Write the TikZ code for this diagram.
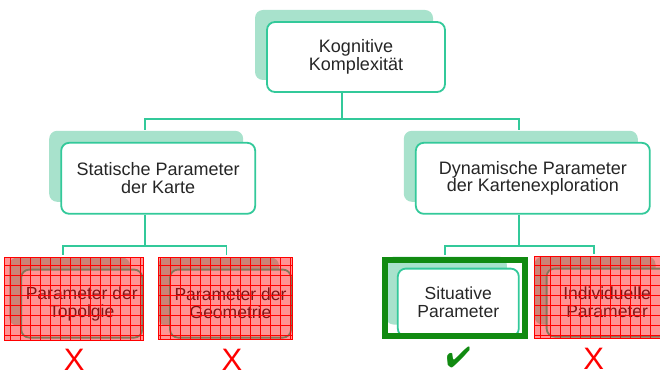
\documentclass[tikz,border=0pt]{standalone}
\usepackage{fontspec}
\setmainfont{Liberation Sans}
\usepackage{pifont}
\usetikzlibrary{positioning,shadows,patterns.meta}
\definecolor{mint}{HTML}{33C99A}
\definecolor{shade}{HTML}{A8E2CC}
\definecolor{ink}{HTML}{262626}
\definecolor{okgreen}{HTML}{118A11}
\definecolor{nored}{HTML}{FF0000}
\tikzset{
  every node/.style={font=\fontsize{18}{17.7}\selectfont,text=ink},
  box/.style={draw=mint,line width=1.8pt,rounded corners=8pt,fill=white,minimum height=71pt,align=center,inner sep=4pt,
    general shadow={fill=shade,draw=none,shadow xshift=-12pt,shadow yshift=12pt}},
  leafbox/.style={box,minimum width=121pt,minimum height=68pt,font=\fontsize{17.5}{18}\selectfont},
  link/.style={draw=mint,line width=1.8pt},
  veto/.style={draw=nored,line width=1pt,fill=nored,fill opacity=.42,
    postaction={fill opacity=.8,pattern={Lines[angle=0,distance=10pt,line width=.7pt]},pattern color=nored},
    postaction={fill opacity=.8,pattern={Lines[angle=90,distance=10pt,line width=.7pt]},pattern color=nored}},
  keep/.style={draw=okgreen,line width=6pt},
  nomark/.style={font=\fontsize{31}{31}\selectfont,text=nored,inner sep=0pt},
  okmark/.style={font=\fontsize{29}{29}\selectfont,text=okgreen,inner sep=0pt},
}

\begin{document}
\begin{tikzpicture}[x=1pt,y=1pt]
\useasboundingbox (0,0) rectangle (660,375);

% root
\node[box,minimum width=178pt,minimum height=70pt] (root) at (356,318) {Kognitive\\Komplexität};

% second level
\node[box,minimum width=194pt,below left=49pt and 10pt of root] (static) {Statische Parameter\\der Karte};
\node[box,minimum width=234pt,below right=49pt and -31pt of root] (dynamic) {Dynamische Parameter\\der Kartenexploration};

% third level
\node[leafbox,below=54pt of static,xshift=-76.5pt] (topo) {Parameter der\\Topolgie};
\node[leafbox,right=26pt of topo] (geom) {Parameter der\\Geometrie};
\node[leafbox,below=53pt of dynamic,xshift=-74.5pt] (situ) {Situative\\Parameter};
\node[leafbox,right=26pt of situ] (indiv) {Individuelle\\Parameter};

% connectors
\draw[link] ([xshift=-14pt]root.south) -- ++(0,-26) -| ([shift={(-13pt,12pt)}]static.north);
\draw[link] ([xshift=-14pt]root.south) ++(0,-26) -| ([shift={(-14pt,12pt)}]dynamic.north);
\draw[link] ([xshift=-13pt]static.south) -- ++(0,-31) -| ([shift={(-18.5pt,14pt)}]topo.north);
\draw[link] ([xshift=-13pt]static.south) ++(0,-31) -| ([shift={(-4pt,14pt)}]geom.north);
\draw[link] ([xshift=-14pt]dynamic.south) -- ++(0,-31) -| ([shift={(-13.5pt,13pt)}]situ.north);
\draw[link] ([xshift=-14pt]dynamic.south) ++(0,-31) -| ([shift={(-13pt,14pt)}]indiv.north);

% overlays
\path[veto] ([shift={(-16pt,11pt)}]topo.north west) rectangle ([shift={(0pt,-2pt)}]topo.south east);
\path[veto] ([shift={(-11pt,11pt)}]geom.north west) rectangle ([shift={(1pt,-1pt)}]geom.south east);
\path[veto] ([shift={(-11pt,11pt)}]indiv.north west) rectangle ([shift={(0pt,-1pt)}]indiv.south east);
\draw[keep] ([shift={(-12pt,8pt)}]situ.north west) rectangle ([shift={(5pt,2pt)}]situ.south east);

% marks
\node[nomark,anchor=base] (xtopo) at ([shift={(-7.5pt,-32pt)}]topo.south) {X};
\node[nomark,anchor=base] (xgeom) at ([shift={(1.5pt,-32pt)}]geom.south) {X};
\node[okmark,anchor=base] (oksitu) at ([shift={(0pt,-30pt)}]situ.south) {\ding{52}};
\node[nomark,anchor=base] (xindiv) at ([shift={(-13.5pt,-32pt)}]indiv.south) {X};

\end{tikzpicture}
\end{document}
